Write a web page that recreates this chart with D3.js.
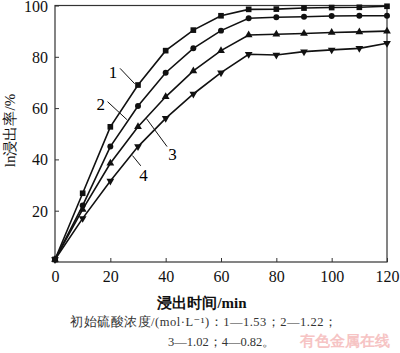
<!DOCTYPE html>
<html>
<head>
<meta charset="utf-8">
<script src="https://cdn.jsdelivr.net/npm/d3@7"></script>
<style>
  body { margin: 0; background: #fff; }
  text { font-family: "Liberation Serif", "DejaVu Serif", serif; }
</style>
</head>
<body>
<svg width="400" height="353"></svg>
<script>
const times = [0, 10, 20, 30, 40, 50, 60, 70, 80, 90, 100, 110, 120];
const series1 = [1, 26.8, 52.7, 69, 82.4, 90.4, 96, 98.5, 98.6, 99, 99.2, 99.3, 99.7];
const series2 = [1, 22, 45, 60.8, 73.8, 83.3, 90.2, 95, 95.4, 95.6, 95.9, 96, 96];
const series3 = [1, 20.5, 38.5, 52.7, 64.4, 74.5, 82.4, 88.5, 88.8, 89.1, 89.5, 89.7, 90];
const series4 = [1, 17, 31.6, 45, 56, 65.5, 73.8, 81, 80.7, 82, 82.7, 83.3, 85.3];
const xTicks = [0, 20, 40, 60, 80, 100, 120];
const yTicks = [20, 40, 60, 80, 100];

const svg = d3.select('svg');
const margin = { top: 5.5, left: 55, right: 13, bottom: 91 };
const width = +svg.attr('width');
const height = +svg.attr('height');
const innerWidth = width - margin.left - margin.right;
const innerHeight = height - margin.top - margin.bottom;

const xScale = d3.scaleLinear().domain([0, 120]).range([0, innerWidth]);
const yScale = d3.scaleLinear().domain([0, 100]).range([innerHeight, 0]);

const g = svg.append('g')
    .attr('transform', `translate(${margin.left}, ${margin.top})`);

// frame
g.append('rect')
    .attr('width', innerWidth)
    .attr('height', innerHeight)
    .attr('fill', 'none')
    .attr('stroke', '#333')
    .attr('stroke-width', 1.2);

const xAxis = d3.axisBottom(xScale)
    .tickValues(xTicks)
    .tickSize(-4)
    .tickPadding(8);
const xAxisG = g.append('g')
    .attr('transform', `translate(0, ${innerHeight})`)
    .call(xAxis);
xAxisG.select('.domain').remove();
xAxisG.selectAll('text')
    .attr('fill', '#111')
    .attr('font-size', 16)
    .attr('dy', null)
    .attr('y', 20);
xAxisG.selectAll('line').attr('stroke', '#333');

const yAxis = d3.axisLeft(yScale)
    .tickValues(yTicks)
    .tickSize(-4)
    .tickPadding(7);
const yAxisG = g.append('g').call(yAxis);
yAxisG.select('.domain').remove();
yAxisG.selectAll('text')
    .attr('fill', '#111')
    .attr('font-size', 16)
    .attr('dy', null)
    .attr('y', 5.5);
yAxisG.selectAll('line').attr('stroke', '#333');

const allSeries = [
    { values: series1, shape: d3.symbolSquare, size: 32, rot: 0 },
    { values: series2, shape: d3.symbolCircle, size: 28, rot: 0 },
    { values: series3, shape: d3.symbolTriangle, size: 26, rot: 0 },
    { values: series4, shape: d3.symbolTriangle, size: 26, rot: 180 }
];

const line = d3.line()
    .x((d, i) => xScale(times[i]))
    .y(d => yScale(d));

allSeries.forEach(s => {
    g.append('path')
        .attr('d', line(s.values))
        .attr('fill', 'none')
        .attr('stroke', '#111')
        .attr('stroke-width', 1.6);
    g.selectAll(null).data(s.values)
        .enter().append('path')
        .attr('d', d3.symbol().type(s.shape).size(s.size))
        .attr('transform', (d, i) => `translate(${xScale(times[i])}, ${yScale(d)}) rotate(${s.rot})`)
        .attr('fill', '#111');
});

// curve labels with leader lines (in data coords)
const labels = [
    { text: '1', tx: 21, ty: 74, x1: 23.5, y1: 75.5, x2: 28.8, y2: 69.5 },
    { text: '2', tx: 16.5, ty: 61.5, x1: 19, y1: 62.5, x2: 26, y2: 55.5 },
    { text: '3', tx: 42.5, ty: 42, x1: 33, y1: 56, x2: 40.5, y2: 45 },
    { text: '4', tx: 32, ty: 34, x1: 28, y1: 41.5, x2: 31, y2: 37.5 }
];
labels.forEach(l => {
    g.append('line')
        .attr('x1', xScale(l.x1)).attr('y1', yScale(l.y1))
        .attr('x2', xScale(l.x2)).attr('y2', yScale(l.y2))
        .attr('stroke', '#111').attr('stroke-width', 1);
    g.append('text')
        .attr('x', xScale(l.tx)).attr('y', yScale(l.ty) + 6)
        .attr('text-anchor', 'middle')
        .attr('font-size', 17)
        .text(l.text);
});

// axis titles
svg.append('text')
    .attr('transform', `translate(15, ${margin.top + 125}) rotate(-90)`)
    .attr('text-anchor', 'middle')
    .attr('font-size', 15)
    .attr('fill', '#111')
    .text('ln浸出率/%');

svg.append('text')
    .attr('x', 202)
    .attr('y', 308)
    .attr('text-anchor', 'middle')
    .attr('font-size', 15)
    .attr('font-weight', 'bold')
    .attr('fill', '#111')
    .text('浸出时间/min');

svg.append('text')
    .attr('x', 70)
    .attr('y', 326)
    .attr('font-size', 12.5)
    .attr('fill', '#333')
    .attr('textLength', 267)
    .text('初始硫酸浓度/(mol·L⁻¹)：1—1.53；2—1.22；');

svg.append('text')
    .attr('x', 168)
    .attr('y', 346)
    .attr('font-size', 12.5)
    .attr('fill', '#333')
    .text('3—1.02；4—0.82。');

svg.append('text')
    .attr('x', 300)
    .attr('y', 346)
    .attr('font-family', 'Noto Sans CJK SC')
    .attr('font-size', 15)
    .attr('font-weight', 'bold')
    .attr('fill', '#f6c4c4')
    .text('有色金属在线');
</script>
</body>
</html>
